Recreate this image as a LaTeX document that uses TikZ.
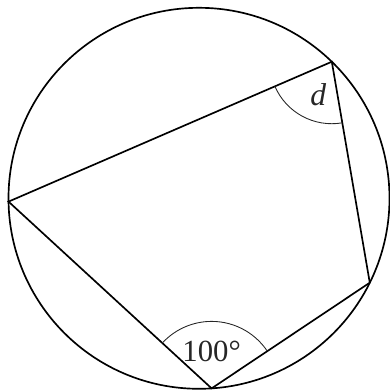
\documentclass[tikz,border=0pt]{standalone}
\usepackage{fontspec}
\setmainfont{Liberation Serif}
\usetikzlibrary{angles,calc}

\begin{document}
\begin{tikzpicture}[
    x=0.02cm, y=0.02cm,
    edge/.style={line width=0.95pt, draw=black},
    mark arc/.style={draw=black!85, line width=0.5pt},
    label/.style={inner sep=0pt, text=black!85}
  ]
    \useasboundingbox (-199,-193.7) rectangle (190,198.3);

    \draw[edge] (0,0) circle (190.5);

    \coordinate (left) at (181:190.5);
    \coordinate (top) at (45.8:190.5);
    \coordinate (right) at (-26.3:190.5);
    \coordinate (bottom) at (-86.2:190.5);

    \draw[edge] (left) -- (top) -- (right) -- (bottom) -- cycle;

    \pic[mark arc, angle radius=1.24cm] {angle = left--top--right};
    \pic[mark arc, angle radius=1.34cm] {angle = right--bottom--left};

    \node[label, font=\fontsize{18}{20}\selectfont\itshape] (dlabel) at (119.3,103.3) {d};
    \node[label, font=\fontsize{17.5}{20}\selectfont] (anglelabel) at (12.7,-153.4) {100°};
  \end{tikzpicture}
\end{document}
